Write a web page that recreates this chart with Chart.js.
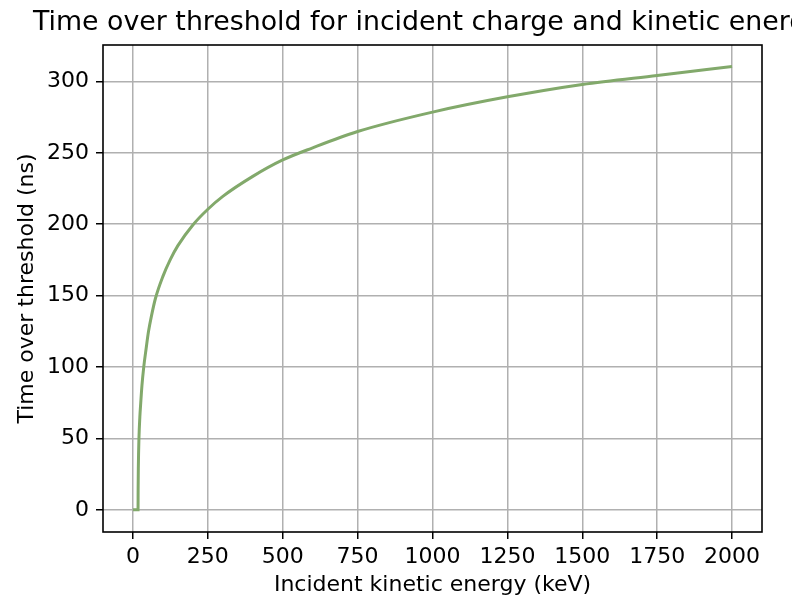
<!DOCTYPE html>
<html>
<head>
<meta charset="utf-8">
<script src="https://cdn.jsdelivr.net/npm/chart.js@4.4.1/dist/chart.umd.min.js"></script>
<style>
html, body { margin: 0; padding: 0; background: #ffffff; }
#wrap { width: 792px; height: 604px; }
</style>
</head>
<body>
<div id="wrap"><canvas id="totChart" width="792" height="604"></canvas></div>
<script>
/* data */
const energyKeV = [0, 17, 17.3, 18, 20, 23, 26, 30, 36, 44, 52, 62, 75, 100, 125, 150, 200, 250, 300, 400, 500, 600, 750, 1000, 1250, 1500, 1750, 2000];
const totNs = [0, 0, 15, 30, 50, 65, 75, 87, 100, 113, 125, 136, 148, 163.5, 175.4, 185, 199.5, 210.5, 219.5, 233.5, 245, 253.5, 264.9, 278.5, 289.2, 297.9, 304.2, 310.4];
const xTicks = [0, 250, 500, 750, 1000, 1250, 1500, 1750, 2000];
const yTicks = [0, 50, 100, 150, 200, 250, 300];

const titleText = "Time over threshold for incident charge and kinetic energy";
const xLabel = "Incident kinetic energy (keV)";
const yLabel = "Time over threshold (ns)";

const FONT = "'DejaVu Sans', sans-serif";

/* frame + titles drawn like matplotlib */
const framePlugin = {
id: "frame",
afterDraw(chart) {
const c = chart.ctx;
const a = chart.chartArea;
c.save();
c.strokeStyle = "#000000";
c.lineWidth = 1.6;
c.strokeRect(a.left, a.top, a.right - a.left, a.bottom - a.top);
const cx = (a.left + a.right) / 2;
c.fillStyle = "#000000";
c.textBaseline = "alphabetic";
c.textAlign = "left";
c.font = "26.8px " + FONT;
c.fillText(titleText, 33, 30);
c.textAlign = "center";
c.font = "22px " + FONT;
c.fillText(xLabel, cx, 591);
c.translate(33, (a.top + a.bottom) / 2);
c.rotate(-Math.PI / 2);
c.fillText(yLabel, 0, 0);
c.restore();
}
};

const points = energyKeV.map((e, i) => ({ x: e, y: totNs[i] }));

new Chart(document.getElementById("totChart").getContext("2d"), {

type: "line",

data: {
datasets: [{
data: points,
borderColor: "#82a96b",
borderWidth: 3,
pointRadius: 0,
fill: false,
cubicInterpolationMode: "monotone"
}]
},

options: {
responsive: false,
animation: false,
layout: {
padding: { left: 0, top: 45, right: 30, bottom: 0 }
},
plugins: {
legend: { display: false },
tooltip: { enabled: false }
},
scales: {
x: {
type: "linear",
min: -100,
max: 2100,
afterBuildTicks: s => { s.ticks = xTicks.map(v => ({ value: v })); },
afterFit: s => { s.height = 72; },
grid: { color: "#b0b0b0", lineWidth: 1.5, tickColor: "#000000", tickLength: 7 },
border: { display: false },
ticks: { color: "#000000", font: { family: FONT, size: 22 }, padding: 5, maxRotation: 0, callback: v => String(v) }
},
y: {
min: -15.5,
max: 325.5,
afterBuildTicks: s => { s.ticks = yTicks.map(v => ({ value: v })); },
afterFit: s => { s.width = 103; },
grid: { color: "#b0b0b0", lineWidth: 1.5, tickColor: "#000000", tickLength: 7 },
border: { display: false },
ticks: { color: "#000000", font: { family: FONT, size: 22 }, padding: 7, callback: v => String(v) }
}
}
},

plugins: [framePlugin]

});
</script>
</body>
</html>
